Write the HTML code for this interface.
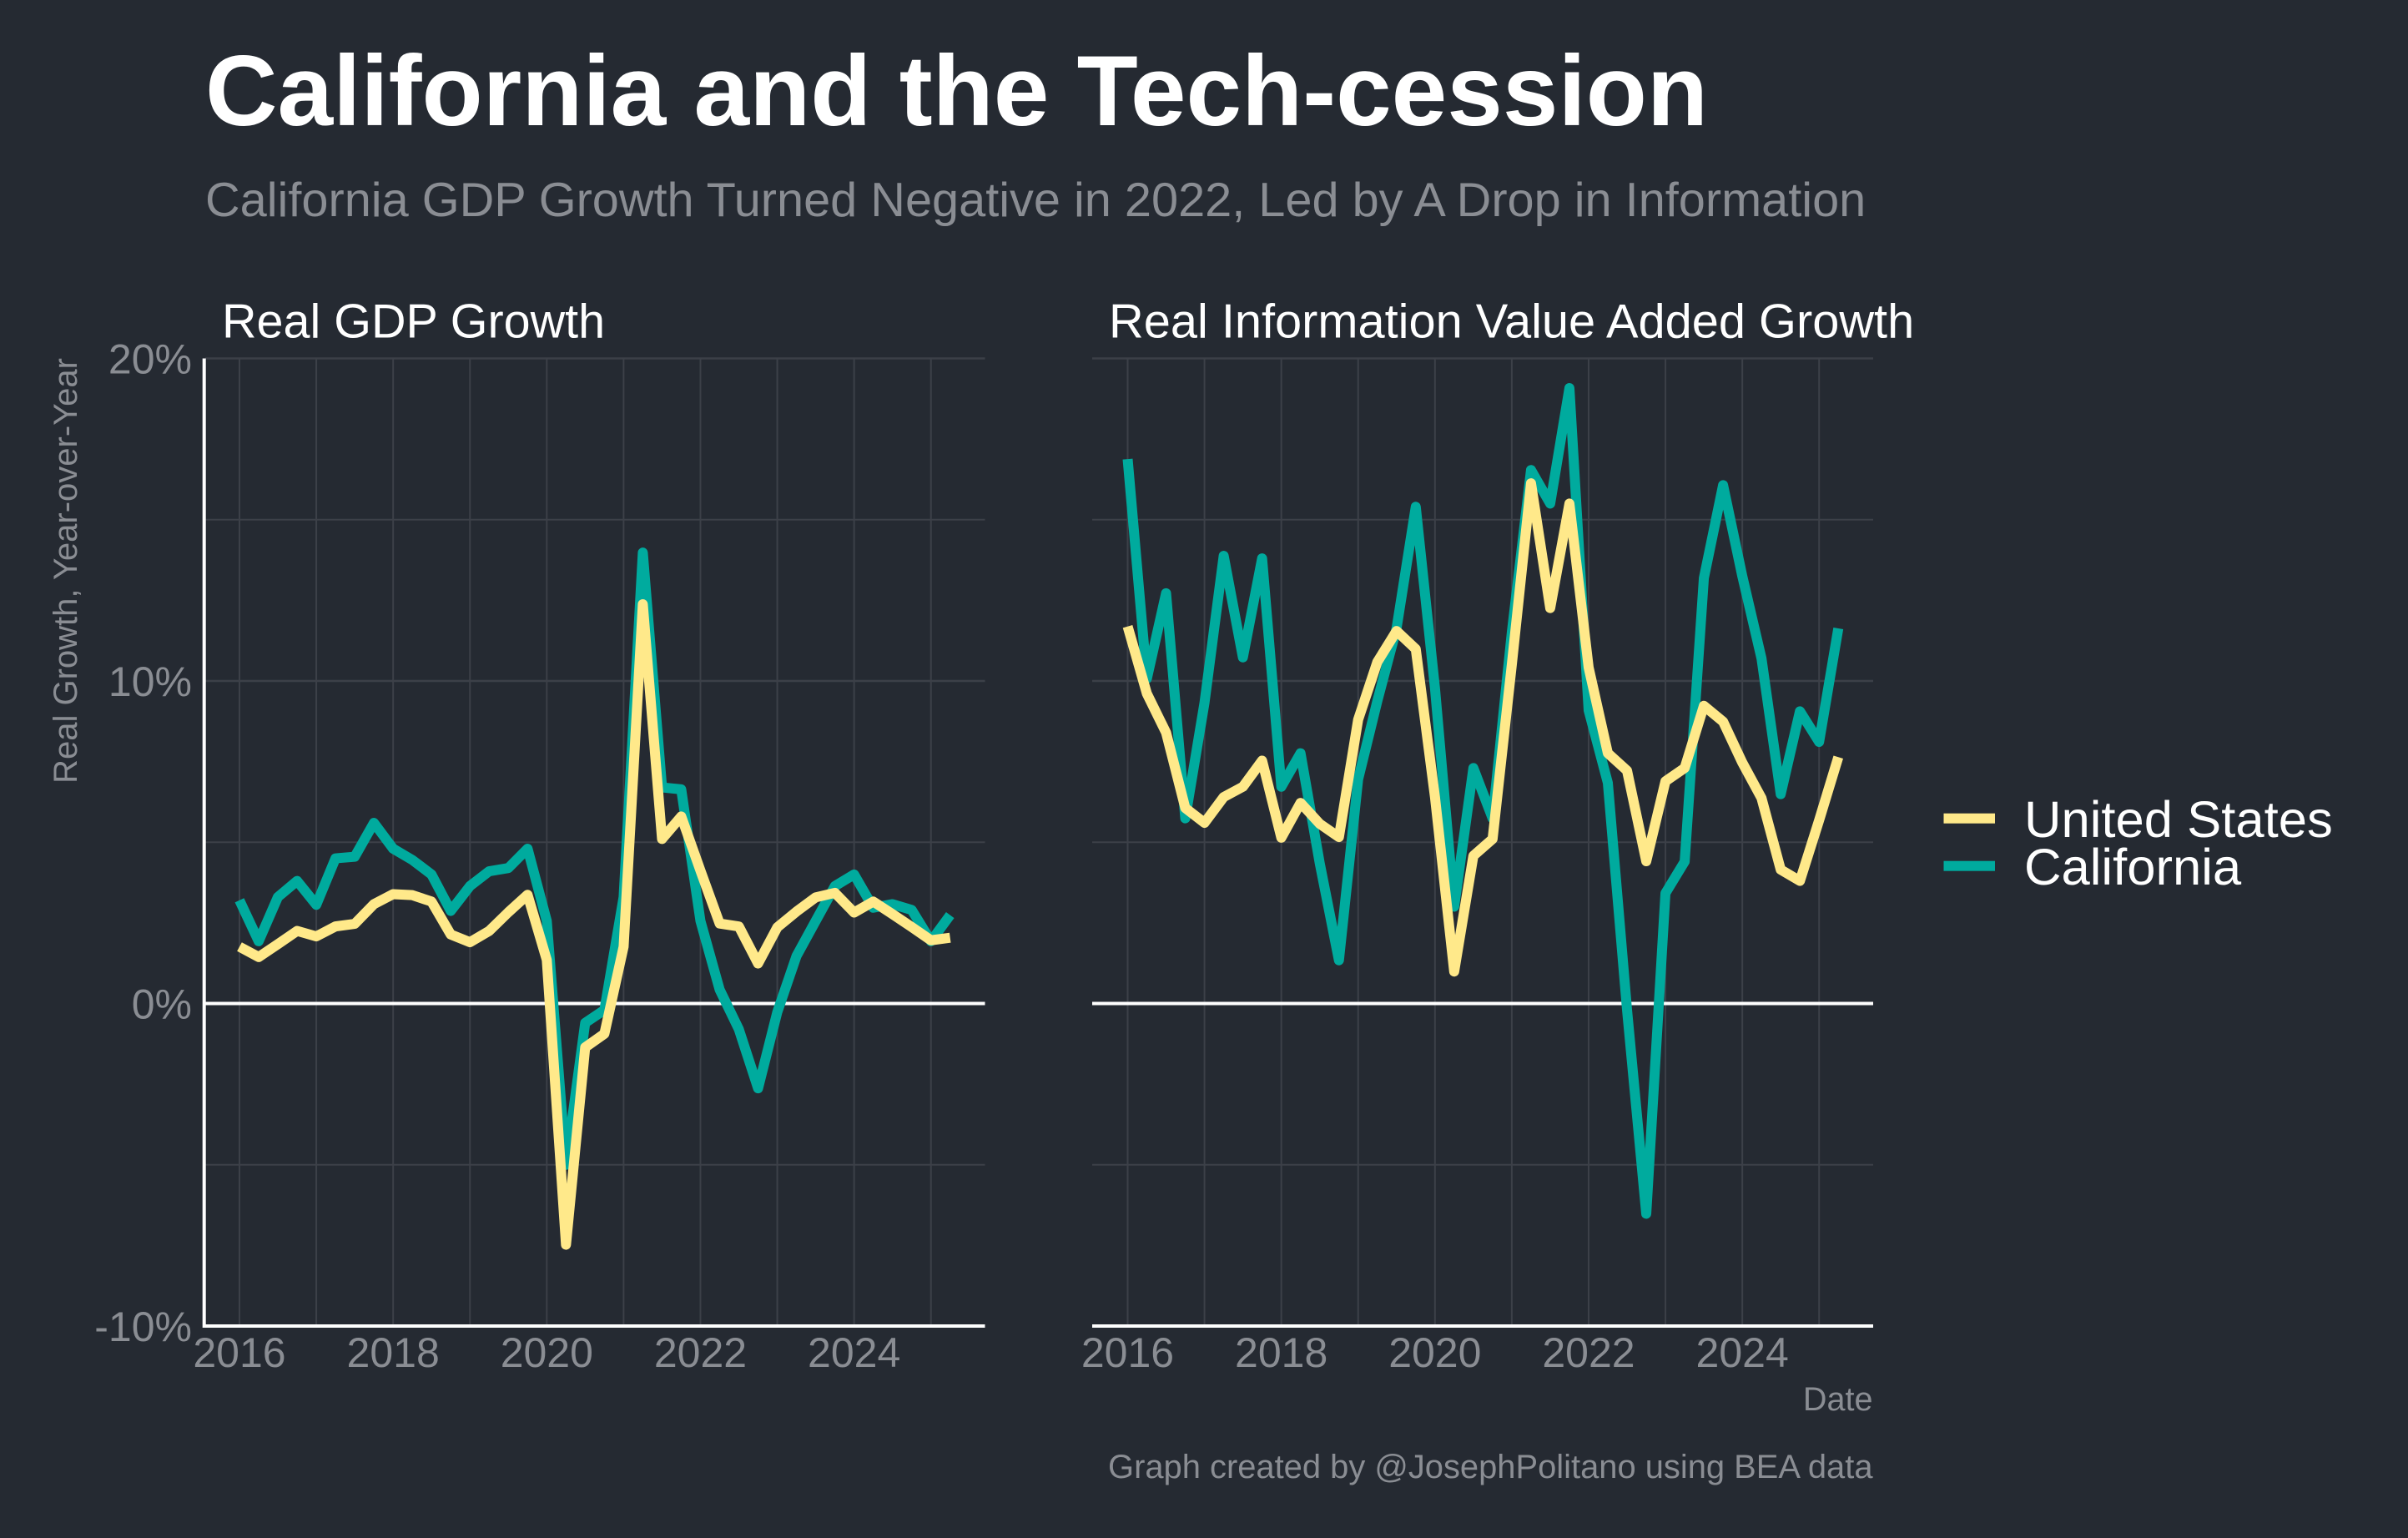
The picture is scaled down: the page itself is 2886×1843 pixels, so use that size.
<!DOCTYPE html>
<html lang="en">
<head>
<meta charset="utf-8">
<title>California and the Tech-cession</title>
<style>
html,body{margin:0;padding:0;background:#252a32;}
svg{display:block;}
text{font-family:"Liberation Sans",Arial,sans-serif;}
</style>
</head>
<body>
<svg id="chart" xmlns="http://www.w3.org/2000/svg" width="2886" height="1843" viewBox="0 0 2886 1843">
  <rect width="2886" height="1843" fill="#252a32"/>
  <text x="246" y="150" font-size="119.75" font-weight="700" fill="#ffffff">California and the Tech-cession</text>
  <text x="246" y="259" font-size="57.7" fill="#8a8d93">California GDP Growth Turned Negative in 2022, Led by A Drop in Information</text>
  <text x="266" y="404.5" font-size="57.5" fill="#ffffff">Real GDP Growth</text>
  <text x="1329" y="404.5" font-size="57.75" fill="#ffffff">Real Information Value Added Growth</text>
  <text transform="translate(92,429) rotate(-90)" text-anchor="end" font-size="40" fill="#8a8d93">Real Growth, Year-over-Year</text>
  <g id="panels"></g>
  <text x="2244.5" y="1690" text-anchor="end" font-size="39.6" fill="#8a8d93">Date</text>
  <text x="2244.5" y="1771" text-anchor="end" font-size="39.9" fill="#8a8d93">Graph created by @JosephPolitano using BEA data</text>
  <g>
    <rect x="2329.5" y="974.7" width="61.5" height="12" fill="#ffe98a"/>
    <text x="2426" y="1003" font-size="61.6" fill="#ffffff">United States</text>
    <rect x="2329.5" y="1031.7" width="61.5" height="12" fill="#00ab9e"/>
    <text x="2426" y="1060" font-size="61.6" fill="#ffffff">California</text>
  </g>
</svg>
<script>
const quarters = [
  "2016Q1","2016Q2","2016Q3","2016Q4","2017Q1","2017Q2","2017Q3","2017Q4",
  "2018Q1","2018Q2","2018Q3","2018Q4","2019Q1","2019Q2","2019Q3","2019Q4",
  "2020Q1","2020Q2","2020Q3","2020Q4","2021Q1","2021Q2","2021Q3","2021Q4",
  "2022Q1","2022Q2","2022Q3","2022Q4","2023Q1","2023Q2","2023Q3","2023Q4",
  "2024Q1","2024Q2","2024Q3","2024Q4","2025Q1","2025Q2"
];
const gdpCalifornia = [3.2,1.93,3.3,3.8,3.06,4.5,4.55,5.6,4.8,4.45,4.0,2.87,3.64,4.1,4.2,4.8,2.56,-5.0,-0.6,-0.2,3.3,13.98,6.7,6.64,2.56,0.43,-0.8,-2.63,-0.27,1.47,2.56,3.64,4.0,2.97,3.08,2.9,1.93,2.74];
const gdpUnitedStates = [1.76,1.44,1.84,2.25,2.08,2.39,2.47,3.08,3.39,3.36,3.16,2.14,1.9,2.25,2.83,3.37,1.35,-7.48,-1.36,-0.94,1.76,12.38,5.1,5.8,4.12,2.48,2.39,1.24,2.36,2.85,3.29,3.43,2.82,3.16,2.77,2.37,1.96,2.04];
const infoCalifornia = [16.88,10.07,12.72,5.74,9.32,13.88,10.73,13.8,6.72,7.76,4.35,1.34,6.95,9.38,11.63,15.4,9.78,3.0,7.3,5.74,11.5,16.54,15.5,19.08,9.09,6.84,-0.2,-6.52,3.42,4.4,13.19,16.07,13.25,10.7,6.49,9.06,8.11,11.63];
const infoUnitedStates = [11.69,9.61,8.4,6.06,5.6,6.4,6.72,7.53,5.14,6.22,5.57,5.16,8.8,10.59,11.55,10.99,6.4,0.99,4.58,5.1,10.5,16.13,12.26,15.5,10.42,7.76,7.22,4.41,6.89,7.3,9.23,8.74,7.47,6.37,4.15,3.8,5.68,7.64];
const yearGrid = [2016,2017,2018,2019,2020,2021,2022,2023,2024,2025];
const yearLabels = [2016,2018,2020,2022,2024];
const majorY = [20,10,0,-10];
const minorY = [15,5,-5];
const yTickLabels = ["20%","10%","0%","-10%"];

const SVGNS = "http://www.w3.org/2000/svg";
const root = document.getElementById("panels");
const yScale = v => 1202.5 - v * 38.65;
const parseQuarter = q => Number(q.slice(0,4)) + (Number(q.slice(5)) - 1) / 4;
const GRID = "#3c4048";
const WHITE = "#ffffff";
const GREY = "#8a8d93";

function line(parent, x1, y1, x2, y2, stroke, w) {
  const el = document.createElementNS(SVGNS, "line");
  el.setAttribute("x1", x1);
  el.setAttribute("y1", y1);
  el.setAttribute("x2", x2);
  el.setAttribute("y2", y2);
  el.setAttribute("stroke", stroke);
  el.setAttribute("stroke-width", w);
  parent.appendChild(el);
  return el;
}
function label(parent, x, y, str, anchor, size, fill) {
  const el = document.createElementNS(SVGNS, "text");
  el.setAttribute("x", x);
  el.setAttribute("y", y);
  el.setAttribute("text-anchor", anchor);
  el.setAttribute("font-size", size);
  el.setAttribute("fill", fill);
  el.textContent = str;
  parent.appendChild(el);
  return el;
}
function series(parent, xScale, values, stroke) {
  const el = document.createElementNS(SVGNS, "polyline");
  el.setAttribute("points", values.map((v, i) => xScale(parseQuarter(quarters[i])).toFixed(2) + "," + yScale(v).toFixed(2)).join(" "));
  el.setAttribute("fill", "none");
  el.setAttribute("stroke", stroke);
  el.setAttribute("stroke-width", 12);
  el.setAttribute("stroke-linejoin", "round");
  el.setAttribute("stroke-linecap", "butt");
  parent.appendChild(el);
  return el;
}
function drawPanel(name, left, right, x2016, caValues, usValues, showY) {
  const xScale = d => x2016 + (d - 2016) * 92.08;
  const g = document.createElementNS(SVGNS, "g");
  
  
  root.appendChild(g);

  minorY.forEach(v => {
    const el = line(g, left, yScale(v), right, yScale(v), GRID, 2);
    
    
  });
  majorY.forEach(v => {
    if (v === 0 || v === -10) return;
    const el = line(g, left, yScale(v), right, yScale(v), GRID, 2.5);
    
    
  });
  yearGrid.forEach(d => {
    const el = line(g, xScale(d), yScale(20), xScale(d), yScale(-10), GRID, 2);
    
    
  });

  const zero = line(g, left, yScale(0), right, yScale(0), WHITE, 4);
  
  

  const ca = series(g, xScale, caValues, "#00ab9e");
  
  
  const us = series(g, xScale, usValues, "#ffe98a");
  
  

  const bottom = line(g, left - (showY ? 3 : 0), yScale(-10), right, yScale(-10), WHITE, 4);
  
  

  yearLabels.forEach(d => {
    const t = label(g, xScale(d), 1638, String(d), "middle", 50, GREY);
    
    
  });

  if (showY) {
    const axis = line(g, 244.7, yScale(20), 244.7, yScale(-10) + 2, WHITE, 4);
    
    
    majorY.forEach((v, i) => {
      const t = label(g, 230, yScale(v) + 18, yTickLabels[i], "end", 50, GREY);
      
      
    });
  }
}
drawPanel("gdp-growth-panel", 246, 1180.5, 287, gdpCalifornia, gdpUnitedStates, true);
drawPanel("information-growth-panel", 1309, 2245, 1351.5, infoCalifornia, infoUnitedStates, false);
</script>
</body>
</html>
